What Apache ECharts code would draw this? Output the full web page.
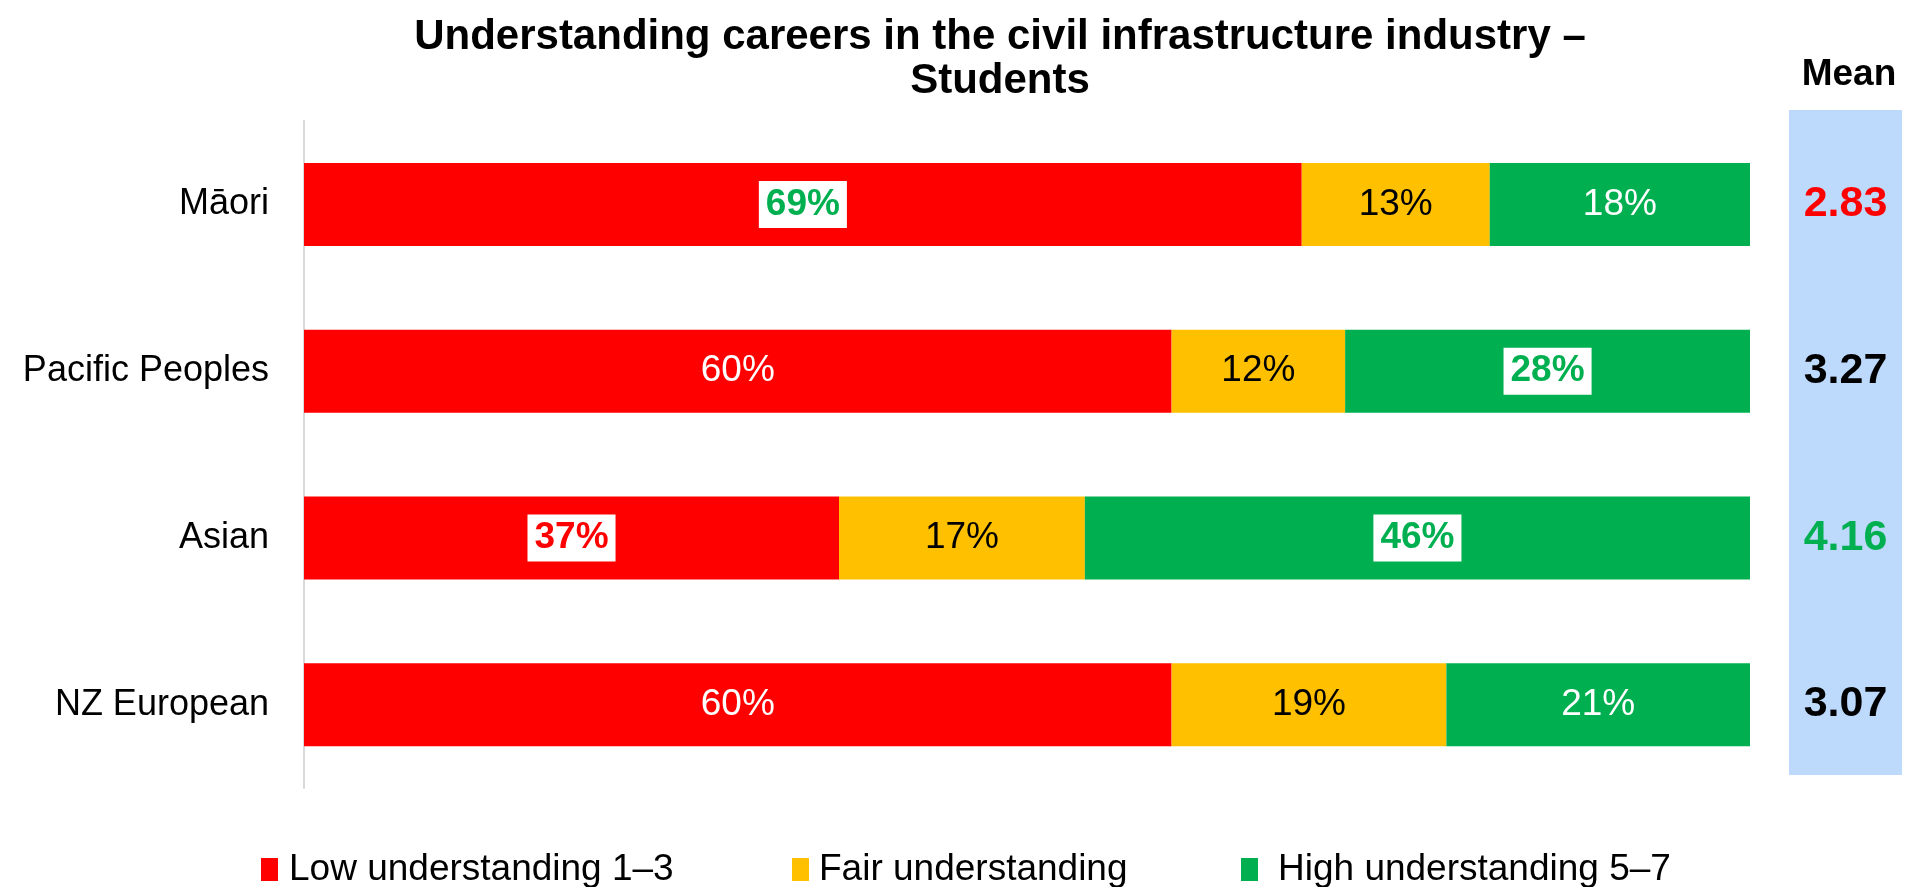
<!DOCTYPE html>
<html>
<head>
<meta charset="utf-8">
<title>Understanding careers in the civil infrastructure industry – Students</title>
<script src="https://cdn.jsdelivr.net/npm/echarts@6/dist/echarts.min.js"></script>
<style>
  html, body { margin: 0; padding: 0; background: #fff; }
  #chart { width: 1908px; height: 887px; }
</style>
</head>
<body>
<div id="chart"></div>
<script>
// Survey groups, top to bottom
const categories = ['Māori', 'Pacific Peoples', 'Asian', 'NZ European'];
// Share of students (%) per understanding band
const low = [69, 60, 37, 60];
const fair = [13, 12, 17, 19];
const high = [18, 28, 46, 21];
// Mean rating on the 1–7 scale
const means = [2.83, 3.27, 4.16, 3.07];
// Significance vs. total: 1 = significantly higher, -1 = significantly lower, 0 = none
const lowSig = [1, 0, -1, 0];
const fairSig = [0, 0, 0, 0];
const highSig = [0, 1, 1, 0];
const meanSig = [-1, 0, 1, 0];
const seriesNames = ['Low understanding 1–3', 'Fair understanding', 'High understanding 5–7'];

const RED = '#FF0000', AMBER = '#FFC000', GREEN = '#00B050';
const FONT = '"Liberation Sans", Arial, sans-serif';

function labelFor(sig, baseColor) {
  if (sig === 0) {
    return { color: baseColor, fontWeight: 'normal' };
  }
  return {
    color: sig > 0 ? GREEN : RED,
    fontWeight: 'bold',
    backgroundColor: '#FFFFFF',
    padding: [6, 7, 4, 7]
  };
}

function barSeries(name, values, sigs, color, textColor) {
  return {
    name: name,
    type: 'bar',
    stack: 'total',
    barWidth: 83,
    itemStyle: { color: color },
    label: {
      show: true,
      position: 'inside',
      fontFamily: FONT,
      fontSize: 37,
      textBorderWidth: 0,
      textBorderColor: 'transparent',
      formatter: p => p.value + '%'
    },
    emphasis: { disabled: true },
    data: values.map((v, i) => ({ value: v, label: labelFor(sigs[i], textColor) }))
  };
}

// One legend block per band so each sits at its own spot along the bottom
function legendItem(name, left, gap) {
  return {
    data: [name],
    left: left,
    top: 846,
    itemWidth: 17,
    itemHeight: 23,
    icon: 'rect',
    selectedMode: false,
    textStyle: { fontFamily: FONT, fontSize: 37, color: '#000', padding: [0, 0, 0, gap] }
  };
}

const chart = echarts.init(document.getElementById('chart'), null, { renderer: 'canvas' });

chart.setOption({
  backgroundColor: '#FFFFFF',
  animation: false,
  textStyle: { fontFamily: FONT },
  title: [
    {
      text: 'Understanding careers in the civil infrastructure industry –\nStudents',
      left: 995,
      top: 10,
      textAlign: 'center',
      textStyle: { fontFamily: FONT, fontSize: 42, fontWeight: 'bold', color: '#000', lineHeight: 44 }
    },
    {
      text: 'Mean',
      left: 1844,
      top: 51,
      textAlign: 'center',
      textStyle: { fontFamily: FONT, fontSize: 37, fontWeight: 'bold', color: '#000' }
    }
  ],
  legend: [
    legendItem(seriesNames[0], 256, 6),
    legendItem(seriesNames[1], 787, 5),
    legendItem(seriesNames[2], 1236, 15)
  ],
  graphic: [
    {
      type: 'rect',
      z: -1,
      shape: { x: 1789, y: 110, width: 113, height: 665 },
      style: { fill: '#BDD9FC' }
    }
  ],
  grid: [
    { left: 304, right: 158, top: 121, height: 667 },
    { left: 1789, width: 113, top: 121, height: 667 }
  ],
  xAxis: [
    { type: 'value', gridIndex: 0, min: 0, max: 100, show: false },
    { type: 'value', gridIndex: 1, min: 0, max: 1, show: false }
  ],
  yAxis: [
    {
      type: 'category',
      gridIndex: 0,
      data: categories,
      inverse: true,
      axisTick: { show: false },
      axisLine: { show: true, lineStyle: { color: '#D9D9D9', width: 2 } },
      axisLabel: { fontFamily: FONT, fontSize: 36, color: '#000', margin: 35 }
    },
    {
      type: 'category',
      gridIndex: 1,
      data: categories,
      inverse: true,
      show: false
    }
  ],
  series: [
    barSeries(seriesNames[0], low, lowSig, RED, '#FFFFFF'),
    barSeries(seriesNames[1], fair, fairSig, AMBER, '#000000'),
    barSeries(seriesNames[2], high, highSig, GREEN, '#FFFFFF'),
    {
      name: 'Mean',
      type: 'scatter',
      xAxisIndex: 1,
      yAxisIndex: 1,
      symbolSize: 0,
      silent: true,
      itemStyle: { color: 'transparent', opacity: 1 },
      emphasis: { disabled: true },
      label: {
        show: true,
        position: 'inside',
        fontFamily: FONT,
        fontSize: 43,
        fontWeight: 'bold',
        opacity: 1,
        textBorderWidth: 0,
        textBorderColor: 'transparent',
        formatter: p => p.value[2].toFixed(2)
      },
      data: means.map((m, i) => ({
        value: [0.5, i, m],
        label: { color: meanSig[i] > 0 ? GREEN : (meanSig[i] < 0 ? RED : '#000000') }
      }))
    }
  ]
});
</script>
</body>
</html>
